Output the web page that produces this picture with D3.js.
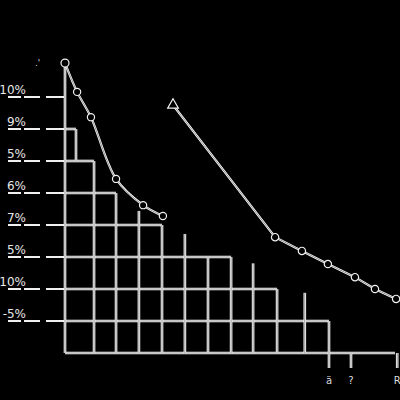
<!DOCTYPE html>
<html><head><meta charset="utf-8">
<script src="https://cdn.jsdelivr.net/npm/d3@7"></script>
<style>html,body{margin:0;padding:0;background:#000;}svg{display:block;}</style>
</head><body>
<script>
// Y levels (tick labels, top to bottom)
const yTickLabels = ["10%", "9%", "5%", "6%", "7%", "5%", "10%", "-5%"];
// right end (x units) of each horizontal grid level, plus baseline (level 8)
const levelEnds = [0, 0.5, 1.32, 2.32, 4.41, 7.55, 9.64, 12, 15];
// vertical grid lines: x position and top level, bottom level
const vertX   = [0.5, 1.32, 2.32, 3.36, 4.41, 5.45, 6.5, 7.55, 8.55, 9.64, 10.9];
const vertTop = [1,   2,    3,    3.56, 4,    4.28, 5,   5,    5.2,  6,    6.12];
const vertBot = [2,   8,    8,    8,    8,    8,    8,   8,    8,    8,    8];
// x axis ticks
const xTickVals = [12, 13, 15.1];
const xTickLabels = ["ä", "?", "R"];
// series 1 (circles, smooth)
const s1x = [0, 0.55, 1.18, 2.32, 3.55, 4.45];
const s1y = [-1.06, -0.16, 0.63, 2.56, 3.38, 3.72];
// series 2 (triangle start, then circles)
const s2x = [4.91, 9.55, 10.77, 11.95, 13.18, 14.09, 15.05];
const s2y = [0.25, 4.38, 4.81, 5.22, 5.63, 6.0, 6.31];

const W = 400, H = 400;
const svg = d3.select("body").append("svg").attr("width", W).attr("height", H)
  .style("background", "#000");
const x = d3.scaleLinear().domain([0, 15]).range([65, 395]);
const y = d3.scaleLinear().domain([0, 8]).range([97, 353]);

function dbl(g, d, wOuter = 2.6, wInner = 0.6) {
  g.append("path").attr("d", d).attr("fill", "none").attr("stroke", "#fff").attr("stroke-width", wOuter);
  g.append("path").attr("d", d).attr("fill", "none").attr("stroke", "#444").attr("stroke-width", wInner);
}
const grid = svg.append("g");
const line = d3.line();

// left dashed tick stubs
yTickLabels.forEach((t, i) => {
  grid.append("line").attr("x1", 8).attr("x2", x(0)).attr("y1", y(i)).attr("y2", y(i))
    .attr("stroke", "#f0f0f0").attr("stroke-width", 2).attr("stroke-dasharray", "13,3,16,6,18");
});
// horizontal grid levels
levelEnds.forEach((e, i) => {
  if (e > 0) dbl(grid, line([[x(0), y(i)], [x(e), y(i)]]));
});
// vertical grid lines
vertX.forEach((v, i) => {
  dbl(grid, line([[x(v), y(vertTop[i])], [x(v), y(vertBot[i])]]));
});
// y axis line
dbl(grid, line([[x(0), y(-1.1)], [x(0), y(8)]]));
// x ticks
xTickVals.forEach((v, i) => {
  dbl(grid, line([[x(v), y(i === 0 ? 7 : 8)], [x(v), y(8) + 15]]));
  svg.append("text").attr("x", x(v)).attr("y", 384).attr("text-anchor", "middle")
    .attr("fill", "#ddd").attr("font-family", "DejaVu Sans, sans-serif").attr("font-size", 10)
    .text(xTickLabels[i]);
});
// y labels
yTickLabels.forEach((t, i) => {
  svg.append("text").attr("x", 26).attr("y", y(i) - 3).attr("text-anchor", "end")
    .attr("fill", "#e8e8e8").attr("font-family", "DejaVu Sans, sans-serif").attr("font-size", 12)
    .text(t);
});
svg.append("text").attr("x", 35).attr("y", 66).attr("fill", "#ddd")
  .attr("font-family", "DejaVu Sans, sans-serif").attr("font-size", 9).text(".'");

// series 1
const p1 = s1x.map((v, i) => [x(v), y(s1y[i])]);
dbl(svg.append("g"), d3.line().curve(d3.curveCatmullRom)(p1), 2.2, 0.6);
svg.append("g").selectAll("circle").data(p1).join("circle")
  .attr("cx", d => d[0]).attr("cy", d => d[1]).attr("r", (d, i) => i === 0 ? 4 : 3.6)
  .attr("fill", "#000").attr("stroke", "#f0f0f0").attr("stroke-width", 1.2);

// series 2
const p2 = s2x.map((v, i) => [x(v), y(s2y[i])]);
dbl(svg.append("g"), d3.line()(p2), 2.2, 0.6);
svg.append("g").selectAll("path.m").data(p2).join("path")
  .attr("transform", d => `translate(${d[0]},${d[1]})`)
  .attr("d", (d, i) => d3.symbol().type(i === 0 ? d3.symbolTriangle : d3.symbolCircle).size(i === 0 ? 50 : 42)())
  .attr("fill", "#000").attr("stroke", "#f0f0f0").attr("stroke-width", 1.2);
</script>
</body></html>
